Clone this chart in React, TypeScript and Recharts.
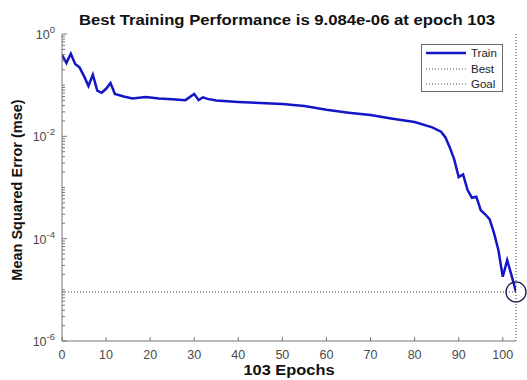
import {
  LineChart,
  Line,
  XAxis,
  YAxis,
  Legend,
  ReferenceLine,
  ReferenceDot,
} from "recharts"

// training curve (epoch, mse)
const epochs = [
  0, 1, 2, 3, 4, 5, 6, 7, 8, 9, 10, 11, 12, 14, 16, 19, 22, 25, 28, 30, 31, 32,
  33, 35, 40, 45, 50, 55, 60, 65, 70, 75, 80, 84, 86, 87, 88, 89, 90, 91, 92,
  93, 94, 95, 96, 97, 98, 99, 100, 101, 102, 103,
]
const mse = [
  0.39, 0.27, 0.41, 0.26, 0.22, 0.15, 0.096, 0.16, 0.078, 0.071, 0.085, 0.11,
  0.067, 0.06, 0.055, 0.059, 0.055, 0.053, 0.051, 0.067, 0.051, 0.058, 0.054,
  0.05, 0.047, 0.045, 0.043, 0.039, 0.033, 0.029, 0.026, 0.022, 0.019, 0.015,
  0.0123, 0.0095, 0.006, 0.0035, 0.0016, 0.0018, 0.0009, 0.00063, 0.00066,
  0.00036, 0.0003, 0.00024, 0.00013, 0.00006, 0.000018, 0.000038, 0.000019,
  0.000009084,
]
const bestEpoch = 103
const bestPerf = 9.084e-6

const xTicks = [0, 10, 20, 30, 40, 50, 60, 70, 80, 90, 100]
const yTicks: number[] = []
for (let e = -6; e < 0; e++) {
  for (let m = 1; m < 10; m++) yTicks.push(m * Math.pow(10, e))
}
yTicks.push(1)
const yLabelled = [-6, -4, -2, 0]

const legendItems = [
  { name: "Train", color: "#1414c8", dash: "", width: 2.5 },
  { name: "Best", color: "#555", dash: "1 2", width: 1 },
  { name: "Goal", color: "#555", dash: "1 2", width: 1 },
]

const data = epochs.map((ep, i) => ({ epoch: ep, train: mse[i] }))

const FONT = "'Liberation Sans', Arial, sans-serif"
const TICK_COLOR = "#4a4a4a"

function XTick(props: any) {
  const { x, y, payload } = props
  const axisY = y - 9
  return (
    <g>
      <line x1={x} x2={x} y1={axisY} y2={axisY - 4} stroke="#777" />
      <text
        x={x}
        y={y}
        dy="0.71em"
        textAnchor="middle"
        fontSize={12.5}
        fontFamily={FONT}
        fill={TICK_COLOR}
      >
        {payload.value}
      </text>
    </g>
  )
}

function YTick(props: any) {
  const { x, y, payload } = props
  const axisX = x + 6
  const lg = Math.log10(payload.value)
  const e = Math.round(lg)
  const isDecade = Math.abs(lg - e) < 1e-6
  const labelled = isDecade && yLabelled.includes(e)
  return (
    <g>
      <line
        x1={axisX}
        x2={axisX + (labelled ? 5 : 3)}
        y1={y}
        y2={y}
        stroke="#777"
      />
      {labelled && (
        <text
          x={axisX - 7}
          y={y + 5}
          textAnchor="end"
          fontSize={12.5}
          fontFamily={FONT}
          fill={TICK_COLOR}
        >
          10
          <tspan dy={-6} fontSize={9.5}>
            {e}
          </tspan>
        </text>
      )}
    </g>
  )
}

function LegendBox() {
  return (
    <div
      style={{
        width: 80,
        height: 46,
        border: "1px solid #666",
        background: "#fff",
        fontFamily: FONT,
        fontSize: 11.5,
        color: "#222",
        position: "relative",
      }}
    >
      {legendItems.map((it, i) => (
        <div
          key={it.name}
          style={{
            position: "absolute",
            top: 1 + i * 15.5,
            left: 3,
            height: 14,
            display: "flex",
            alignItems: "center",
          }}
        >
          <svg width={42} height={14}>
            <line
              x1={1}
              x2={41}
              y1={7}
              y2={7}
              stroke={it.color}
              strokeWidth={it.width}
              strokeDasharray={it.dash}
            />
          </svg>
          <span style={{ marginLeft: 4 }}>{it.name}</span>
        </div>
      ))}
    </div>
  )
}

export default function App() {
  return (
    <div
      style={{
        position: "absolute",
        left: 0,
        top: 0,
        width: 527,
        height: 380,
        background: "#fff",
      }}
    >
      <div
        style={{
          position: "absolute",
          top: 12,
          left: 0,
          width: 574,
          textAlign: "center",
          fontFamily: FONT,
          fontWeight: "bold",
          fontSize: 14.5,
          color: "#111",
          zIndex: 1,
          transform: "scaleX(1.15)",
          transformOrigin: "287px 0",
        }}
      >
        Best Training Performance is 9.084e-06 at epoch 103
      </div>
      <LineChart
        width={527}
        height={380}
        data={data}
        margin={{ top: 34, right: 11, left: 0, bottom: 0 }}
      >
        <XAxis
          dataKey="epoch"
          type="number"
          domain={[0, 103]}
          ticks={xTicks}
          interval={0}
          allowDataOverflow
          height={39}
          tickSize={0}
          tickMargin={9}
          tickLine={false}
          stroke="#777"
          tick={<XTick />}
          label={() => (
            <text
              x={289}
              y={375}
              textAnchor="middle"
              fontSize={14.5}
              fontWeight="bold"
              fontFamily={FONT}
              fill="#111"
              textLength={91}
              lengthAdjust="spacingAndGlyphs"
            >
              103 Epochs
            </text>
          )}
        />
        <YAxis
          type="number"
          scale="log"
          domain={[1e-6, 1]}
          ticks={yTicks}
          interval={0}
          allowDataOverflow
          width={62}
          tickSize={0}
          tickMargin={6}
          tickLine={false}
          stroke="#777"
          tick={<YTick />}
          label={() => (
            <text
              x={22}
              y={190}
              transform="rotate(-90 22 190)"
              textAnchor="middle"
              fontSize={14.5}
              fontWeight="bold"
              fontFamily={FONT}
              fill="#111"
            >
              Mean Squared Error  (mse)
            </text>
          )}
        />
        <ReferenceLine
          y={bestPerf}
          stroke="#444"
          strokeDasharray="1 2"
          strokeWidth={1}
        />
        <ReferenceLine
          x={bestEpoch}
          stroke="#444"
          strokeDasharray="1 2"
          strokeWidth={1}
        />
        <Line
          type="linear"
          dataKey="train"
          stroke="#1414c8"
          strokeWidth={2.5}
          dot={false}
          isAnimationActive={false}
        />
        <ReferenceDot
          x={bestEpoch}
          y={bestPerf}
          r={10}
          fill="none"
          stroke="#1a1a50"
          strokeWidth={1.3}
          ifOverflow="visible"
        />
        <Legend
          layout="vertical"
          align="center"
          verticalAlign="middle"
          wrapperStyle={{ top: 44, left: 421, width: 82, height: 48 }}
          content={() => <LegendBox />}
        />
      </LineChart>
    </div>
  )
}
